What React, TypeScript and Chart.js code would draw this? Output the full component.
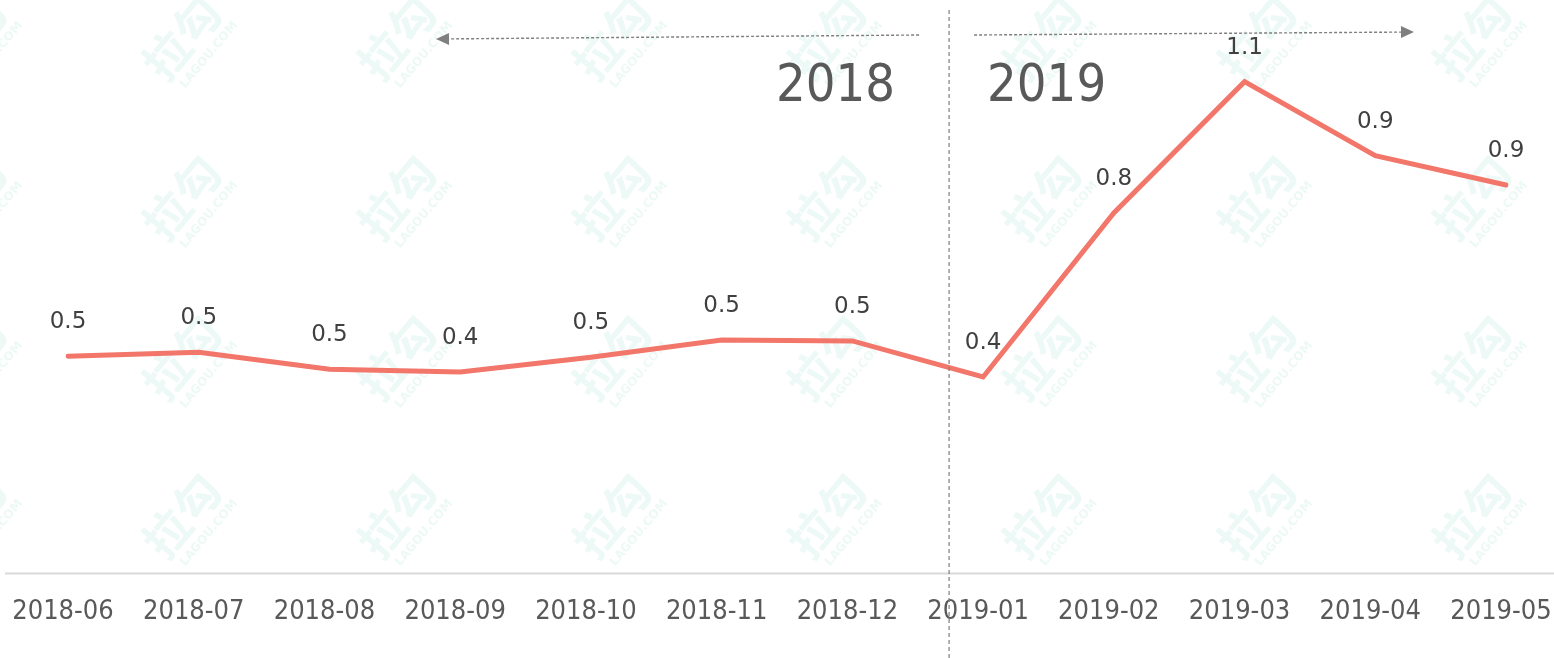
import React, { useEffect, useRef } from "react";
import { Chart, registerables } from "chart.js";

Chart.register(...registerables);

const categories = [
  "2018-06", "2018-07", "2018-08", "2018-09", "2018-10", "2018-11",
  "2018-12", "2019-01", "2019-02", "2019-03", "2019-04", "2019-05",
];
const values = [0.482, 0.491, 0.453, 0.447, 0.48, 0.518, 0.516, 0.436, 0.8, 1.091, 0.927, 0.862];
const yearLabels = ["2018", "2019"];
const dividerIndex = 6.74;
const watermarkMain = "拉勾";
const watermarkSub = "LAGOU.COM";

const GRAY = "#595959";
const LINE = "#F2766A";

function arrow(ctx: CanvasRenderingContext2D, x1: number, y1: number, x2: number, y2: number) {
  ctx.save();
  ctx.strokeStyle = "#7f7f7f";
  ctx.fillStyle = "#7f7f7f";
  ctx.lineWidth = 1.4;
  ctx.setLineDash([3, 2]);
  const ang = Math.atan2(y2 - y1, x2 - x1);
  const hl = 13;
  ctx.beginPath();
  ctx.moveTo(x1, y1);
  ctx.lineTo(x2 - Math.cos(ang) * hl, y2 - Math.sin(ang) * hl);
  ctx.stroke();
  ctx.setLineDash([]);
  ctx.beginPath();
  ctx.moveTo(x2, y2);
  ctx.lineTo(x2 - Math.cos(ang) * hl - Math.sin(ang) * 6, y2 - Math.sin(ang) * hl + Math.cos(ang) * 6);
  ctx.lineTo(x2 - Math.cos(ang) * hl + Math.sin(ang) * 6, y2 - Math.sin(ang) * hl - Math.cos(ang) * 6);
  ctx.closePath();
  ctx.fill();
  ctx.restore();
}

const decorPlugin = {
  id: "decor",
  beforeDraw(chart: any) {
    const ctx = chart.ctx as CanvasRenderingContext2D;
    ctx.save();
    ctx.fillStyle = "#ffffff";
    ctx.fillRect(0, 0, chart.width, chart.height);
    const xs = [-30, 185, 400, 615, 830, 1045, 1260, 1475];
    const ys = [40, 200, 360, 518];
    ctx.fillStyle = "rgba(175, 228, 212, 0.22)";
    ctx.textAlign = "center";
    ctx.textBaseline = "middle";
    for (const x of xs) {
      for (const y of ys) {
        ctx.save();
        ctx.translate(x, y);
        ctx.rotate((-50 * Math.PI) / 180);
        ctx.font = 'bold 46px "Noto Sans CJK SC"';
        ctx.fillText(watermarkMain, 0, -4);
        ctx.font = 'bold 12px "DejaVu Sans"';
        ctx.fillText(watermarkSub, 4, 28);
        ctx.restore();
      }
    }
    ctx.restore();
  },
  beforeDatasetsDraw(chart: any) {
    const ctx = chart.ctx as CanvasRenderingContext2D;
    const y = chart.scales.y.getPixelForValue(0);
    ctx.save();
    ctx.strokeStyle = "#d9d9d9";
    ctx.lineWidth = 2;
    ctx.beginPath();
    ctx.moveTo(5, y);
    ctx.lineTo(chart.width, y);
    ctx.stroke();
    ctx.restore();
  },
  afterDatasetsDraw(chart: any) {
    const ctx = chart.ctx as CanvasRenderingContext2D;
    const meta = chart.getDatasetMeta(0);
    ctx.save();
    ctx.font = '23px "DejaVu Sans"';
    ctx.fillStyle = "#404040";
    ctx.textAlign = "center";
    ctx.textBaseline = "middle";
    meta.data.forEach((pt: any, i: number) => {
      ctx.fillText(values[i].toFixed(1), pt.x, pt.y - 34);
    });
    // divider
    const dx = chart.scales.x.getPixelForValue(dividerIndex);
    ctx.strokeStyle = "#7f7f7f";
    ctx.lineWidth = 1.2;
    ctx.setLineDash([4, 3]);
    ctx.beginPath();
    ctx.moveTo(dx, 10);
    ctx.lineTo(dx, chart.height);
    ctx.stroke();
    ctx.setLineDash([]);
    // arrows
    arrow(ctx, dx - 30, 35, 436, 39);
    arrow(ctx, dx + 25, 35, 1414, 32);
    // year texts
    ctx.font = '52px "DejaVu Sans Condensed", "DejaVu Sans"';
    ctx.fillStyle = GRAY;
    ctx.textBaseline = "alphabetic";
    ctx.textAlign = "right";
    ctx.fillText(yearLabels[0], dx - 54, 101);
    ctx.textAlign = "left";
    ctx.fillText(yearLabels[1], dx + 38, 101);
    ctx.restore();
  },
};

export default function App() {
  const ref = useRef<HTMLCanvasElement | null>(null);
  useEffect(() => {
    if (!ref.current) return;
    const chart = new Chart(ref.current, {
      type: "line",
      data: {
        labels: categories,
        datasets: [
          {
            data: values,
            borderColor: LINE,
            borderWidth: 5,
            pointRadius: 0,
            pointHoverRadius: 0,
            tension: 0,
            fill: false,
            borderJoinStyle: "miter",
            borderCapStyle: "round",
          },
        ],
      },
      options: {
        animation: false,
        responsive: false,
        maintainAspectRatio: false,
        events: [],
        layout: { padding: { left: 68, right: 48, top: 10, bottom: 16 } },
        plugins: { legend: { display: false }, tooltip: { enabled: false } },
        scales: {
          x: {
            offset: false,
            grid: { display: false },
            border: { display: false },
            afterFit: (scale: any) => {
              scale.paddingLeft = 0;
              scale.paddingRight = 0;
            },
            ticks: {
              color: GRAY,
              font: { family: '"DejaVu Sans Condensed", "DejaVu Sans"', size: 27 },
              padding: 14,
              maxRotation: 0,
              minRotation: 0,
              autoSkip: false,
              labelOffset: -5,
            },
          },
          y: {
            display: false,
            min: 0,
            max: 1.25,
          },
        },
      },
      plugins: [decorPlugin],
    });
    return () => chart.destroy();
  }, []);
  return (
    <div style={{ position: "fixed", left: 0, top: 0, width: 1554, height: 658, background: "#fff" }}>
      <canvas ref={ref} width={1554} height={658} style={{ display: "block" }} />
    </div>
  );
}
